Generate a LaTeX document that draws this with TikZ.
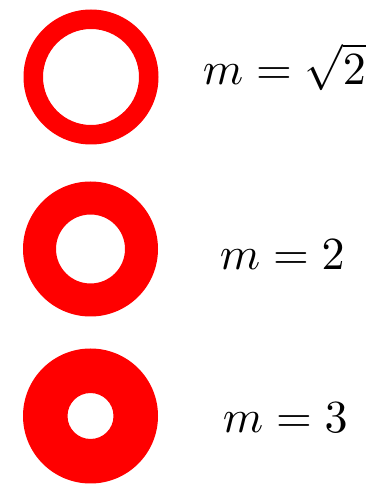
\documentclass[tikz,border=0pt]{standalone}
\begin{document}
\begin{tikzpicture}[x=1pt,y=1pt,
  ring/.style={fill={rgb,255:red,255;green,0;blue,0}, even odd rule},
  lbl/.style={anchor=base west, inner sep=0pt, scale=4.6}]
\useasboundingbox (0,0) rectangle (380,485);
\coordinate (c1) at (91,408);
\coordinate (c2) at (90.5,236);
\coordinate (c3) at (90.5,69);
\fill[ring] (c1) circle (67.5) (c1) circle (48);
\fill[ring] (c2) circle (67.5) (c2) circle (34.5);
\fill[ring] (c3) circle (67.5) (c3) circle (23);
\node[lbl] (l1) at (202,400) {$m=\sqrt{2}$};
\node[lbl] (l2) at (219,215) {$m=2$};
\node[lbl] (l3) at (222,52) {$m=3$};
\end{tikzpicture}
\end{document}
